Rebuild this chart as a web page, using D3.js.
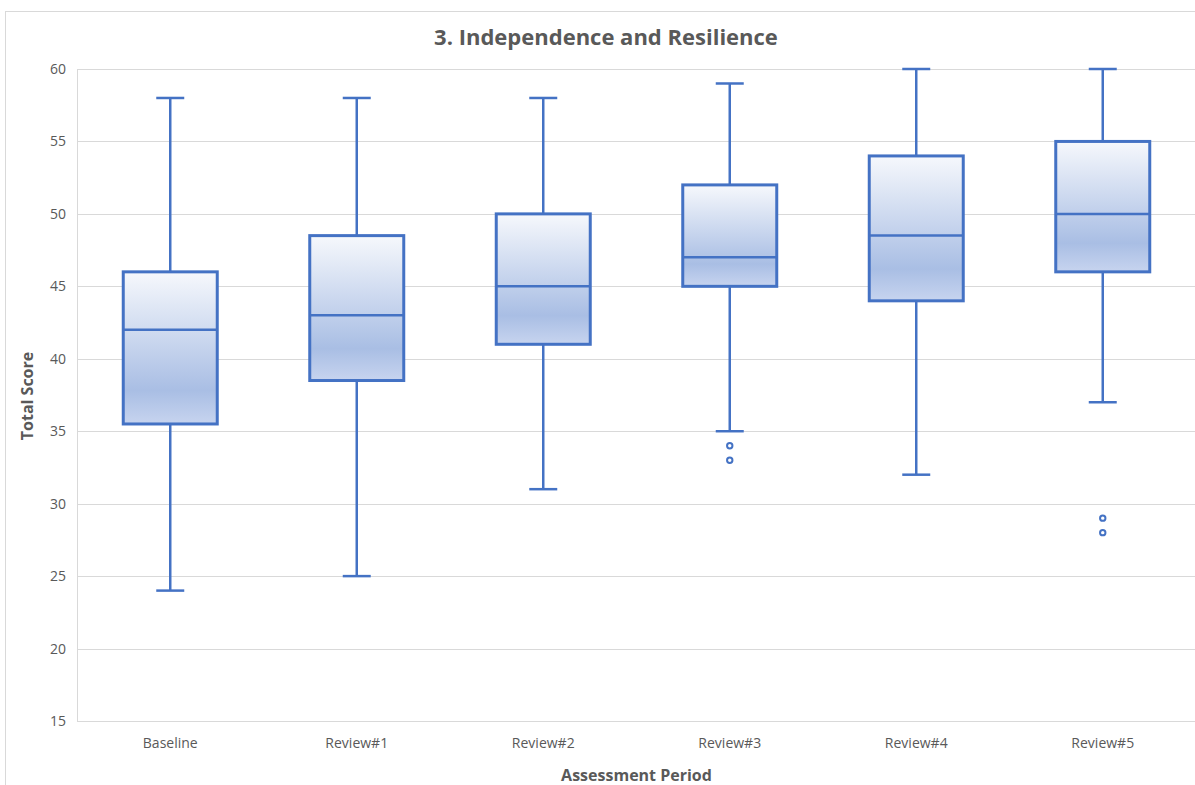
<!DOCTYPE html>
<html>
<head>
<meta charset="utf-8">
<script src="https://cdn.jsdelivr.net/npm/d3@7"></script>
<style>
  html, body { margin: 0; padding: 0; background: #fff; }
  svg { display: block; }
  text { font-family: "Open Sans", "Liberation Sans", sans-serif; }
</style>
</head>
<body>
<svg id="chart" width="1195" height="785"></svg>
<script>
// Assessment periods and five-number summaries of the total score
const categories = ["Baseline", "Review#1", "Review#2", "Review#3", "Review#4", "Review#5"];
const mins    = [24, 25, 31, 35, 32, 37];
const q1s     = [35.5, 38.5, 41, 45, 44, 46];
const medians = [42, 43, 45, 47, 48.5, 50];
const q3s     = [46, 48.5, 50, 52, 54, 55];
const maxs    = [58, 58, 58, 59, 60, 60];
const outliers = [[], [], [], [34, 33], [], [29, 28]];
const yTicks = [15, 20, 25, 30, 35, 40, 45, 50, 55, 60];

const svg = d3.select("#chart");
const W = 1195, H = 785;
const plot = { left: 77, right: 1196, top: 69, bottom: 721 };
const blue = "#4472c4";
const grey = "#595959";

// Chart frame
svg.append("rect")
  .attr("x", 5.5).attr("y", 11.5)
  .attr("width", W + 10).attr("height", H + 10)
  .attr("fill", "#fff").attr("stroke", "#d9d9d9").attr("stroke-width", 1);

const x = d3.scaleBand().domain(categories).range([plot.left, plot.right]);
const y = d3.scaleLinear().domain([15, 60]).range([plot.bottom, plot.top]);

// Gradient fill for the boxes
const defs = svg.append("defs");
const grad = defs.append("linearGradient")
  .attr("id", "boxFill").attr("x1", 0).attr("y1", 0).attr("x2", 0).attr("y2", 1);
grad.append("stop").attr("offset", "0%").attr("stop-color", "#f6f8fc");
grad.append("stop").attr("offset", "78%").attr("stop-color", "#a9bee4");
grad.append("stop").attr("offset", "100%").attr("stop-color", "#c7d4ef");

// Horizontal gridlines
svg.append("g")
  .selectAll("line")
  .data(yTicks)
  .join("line")
  .attr("x1", plot.left).attr("x2", plot.right)
  .attr("y1", d => Math.round(y(d)) + 0.5).attr("y2", d => Math.round(y(d)) + 0.5)
  .attr("stroke", "#d9d9d9").attr("stroke-width", 1);

// Y axis line
svg.append("line")
  .attr("x1", plot.left + 0.5).attr("x2", plot.left + 0.5)
  .attr("y1", plot.top).attr("y2", plot.bottom)
  .attr("stroke", "#d9d9d9");

// Y axis tick labels
const yAxis = d3.axisLeft(y).tickValues(yTicks).tickSize(0).tickPadding(11);
const yg = svg.append("g").attr("transform", `translate(${plot.left},0)`).call(yAxis);
yg.select(".domain").remove();
yg.selectAll("text").attr("fill", grey).attr("font-size", 14)
  .style("font-family", '"Open Sans", sans-serif');

// X axis tick labels
const xAxis = d3.axisBottom(x).tickSize(0).tickPadding(17);
const xg = svg.append("g").attr("transform", `translate(0,${plot.bottom})`).call(xAxis);
xg.select(".domain").remove();
xg.selectAll("text").attr("fill", grey).attr("font-size", 14)
  .style("font-family", '"Open Sans", sans-serif');

// Box plots
const boxW = 94, capW = 28;
const rows = categories.map((c, i) => ({
  c, min: mins[i], q1: q1s[i], med: medians[i], q3: q3s[i], max: maxs[i], out: outliers[i]
}));
const g = svg.append("g").selectAll("g").data(rows).join("g")
  .attr("transform", d => `translate(${x(d.c) + x.bandwidth() / 2},0)`);

// Whiskers
g.append("line")
  .attr("x1", 0).attr("x2", 0)
  .attr("y1", d => y(d.max)).attr("y2", d => y(d.q3))
  .attr("stroke", blue).attr("stroke-width", 2.5);
g.append("line")
  .attr("x1", 0).attr("x2", 0)
  .attr("y1", d => y(d.q1)).attr("y2", d => y(d.min))
  .attr("stroke", blue).attr("stroke-width", 2.5);
// Caps
g.append("line")
  .attr("x1", -capW / 2).attr("x2", capW / 2)
  .attr("y1", d => y(d.max)).attr("y2", d => y(d.max))
  .attr("stroke", blue).attr("stroke-width", 2.5);
g.append("line")
  .attr("x1", -capW / 2).attr("x2", capW / 2)
  .attr("y1", d => y(d.min)).attr("y2", d => y(d.min))
  .attr("stroke", blue).attr("stroke-width", 2.5);

// Boxes
g.append("rect")
  .attr("x", -boxW / 2).attr("width", boxW)
  .attr("y", d => y(d.q3)).attr("height", d => y(d.q1) - y(d.q3))
  .attr("fill", "url(#boxFill)")
  .attr("stroke", blue).attr("stroke-width", 3);
// Median
g.append("line")
  .attr("x1", -boxW / 2).attr("x2", boxW / 2)
  .attr("y1", d => y(d.med)).attr("y2", d => y(d.med))
  .attr("stroke", blue).attr("stroke-width", 2.5);

// Outliers
g.selectAll("circle")
  .data(d => d.out)
  .join("circle")
  .attr("cx", 0).attr("cy", d => y(d)).attr("r", 2.7)
  .attr("fill", "#fff").attr("stroke", blue).attr("stroke-width", 2);

// Title and axis titles
svg.append("text")
  .attr("x", 606).attr("y", 45)
  .attr("text-anchor", "middle")
  .attr("font-size", 22).attr("font-weight", "bold").attr("fill", grey)
  .text("3. Independence and Resilience");

svg.append("text")
  .attr("transform", `translate(33,${(plot.top + plot.bottom) / 2 + 1}) rotate(-90)`)
  .attr("text-anchor", "middle")
  .attr("font-size", 16).attr("font-weight", "bold").attr("fill", grey)
  .text("Total Score");

svg.append("text")
  .attr("x", (plot.left + plot.right) / 2).attr("y", 781)
  .attr("text-anchor", "middle")
  .attr("font-size", 16).attr("font-weight", "bold").attr("fill", grey)
  .text("Assessment Period");
</script>
</body>
</html>
